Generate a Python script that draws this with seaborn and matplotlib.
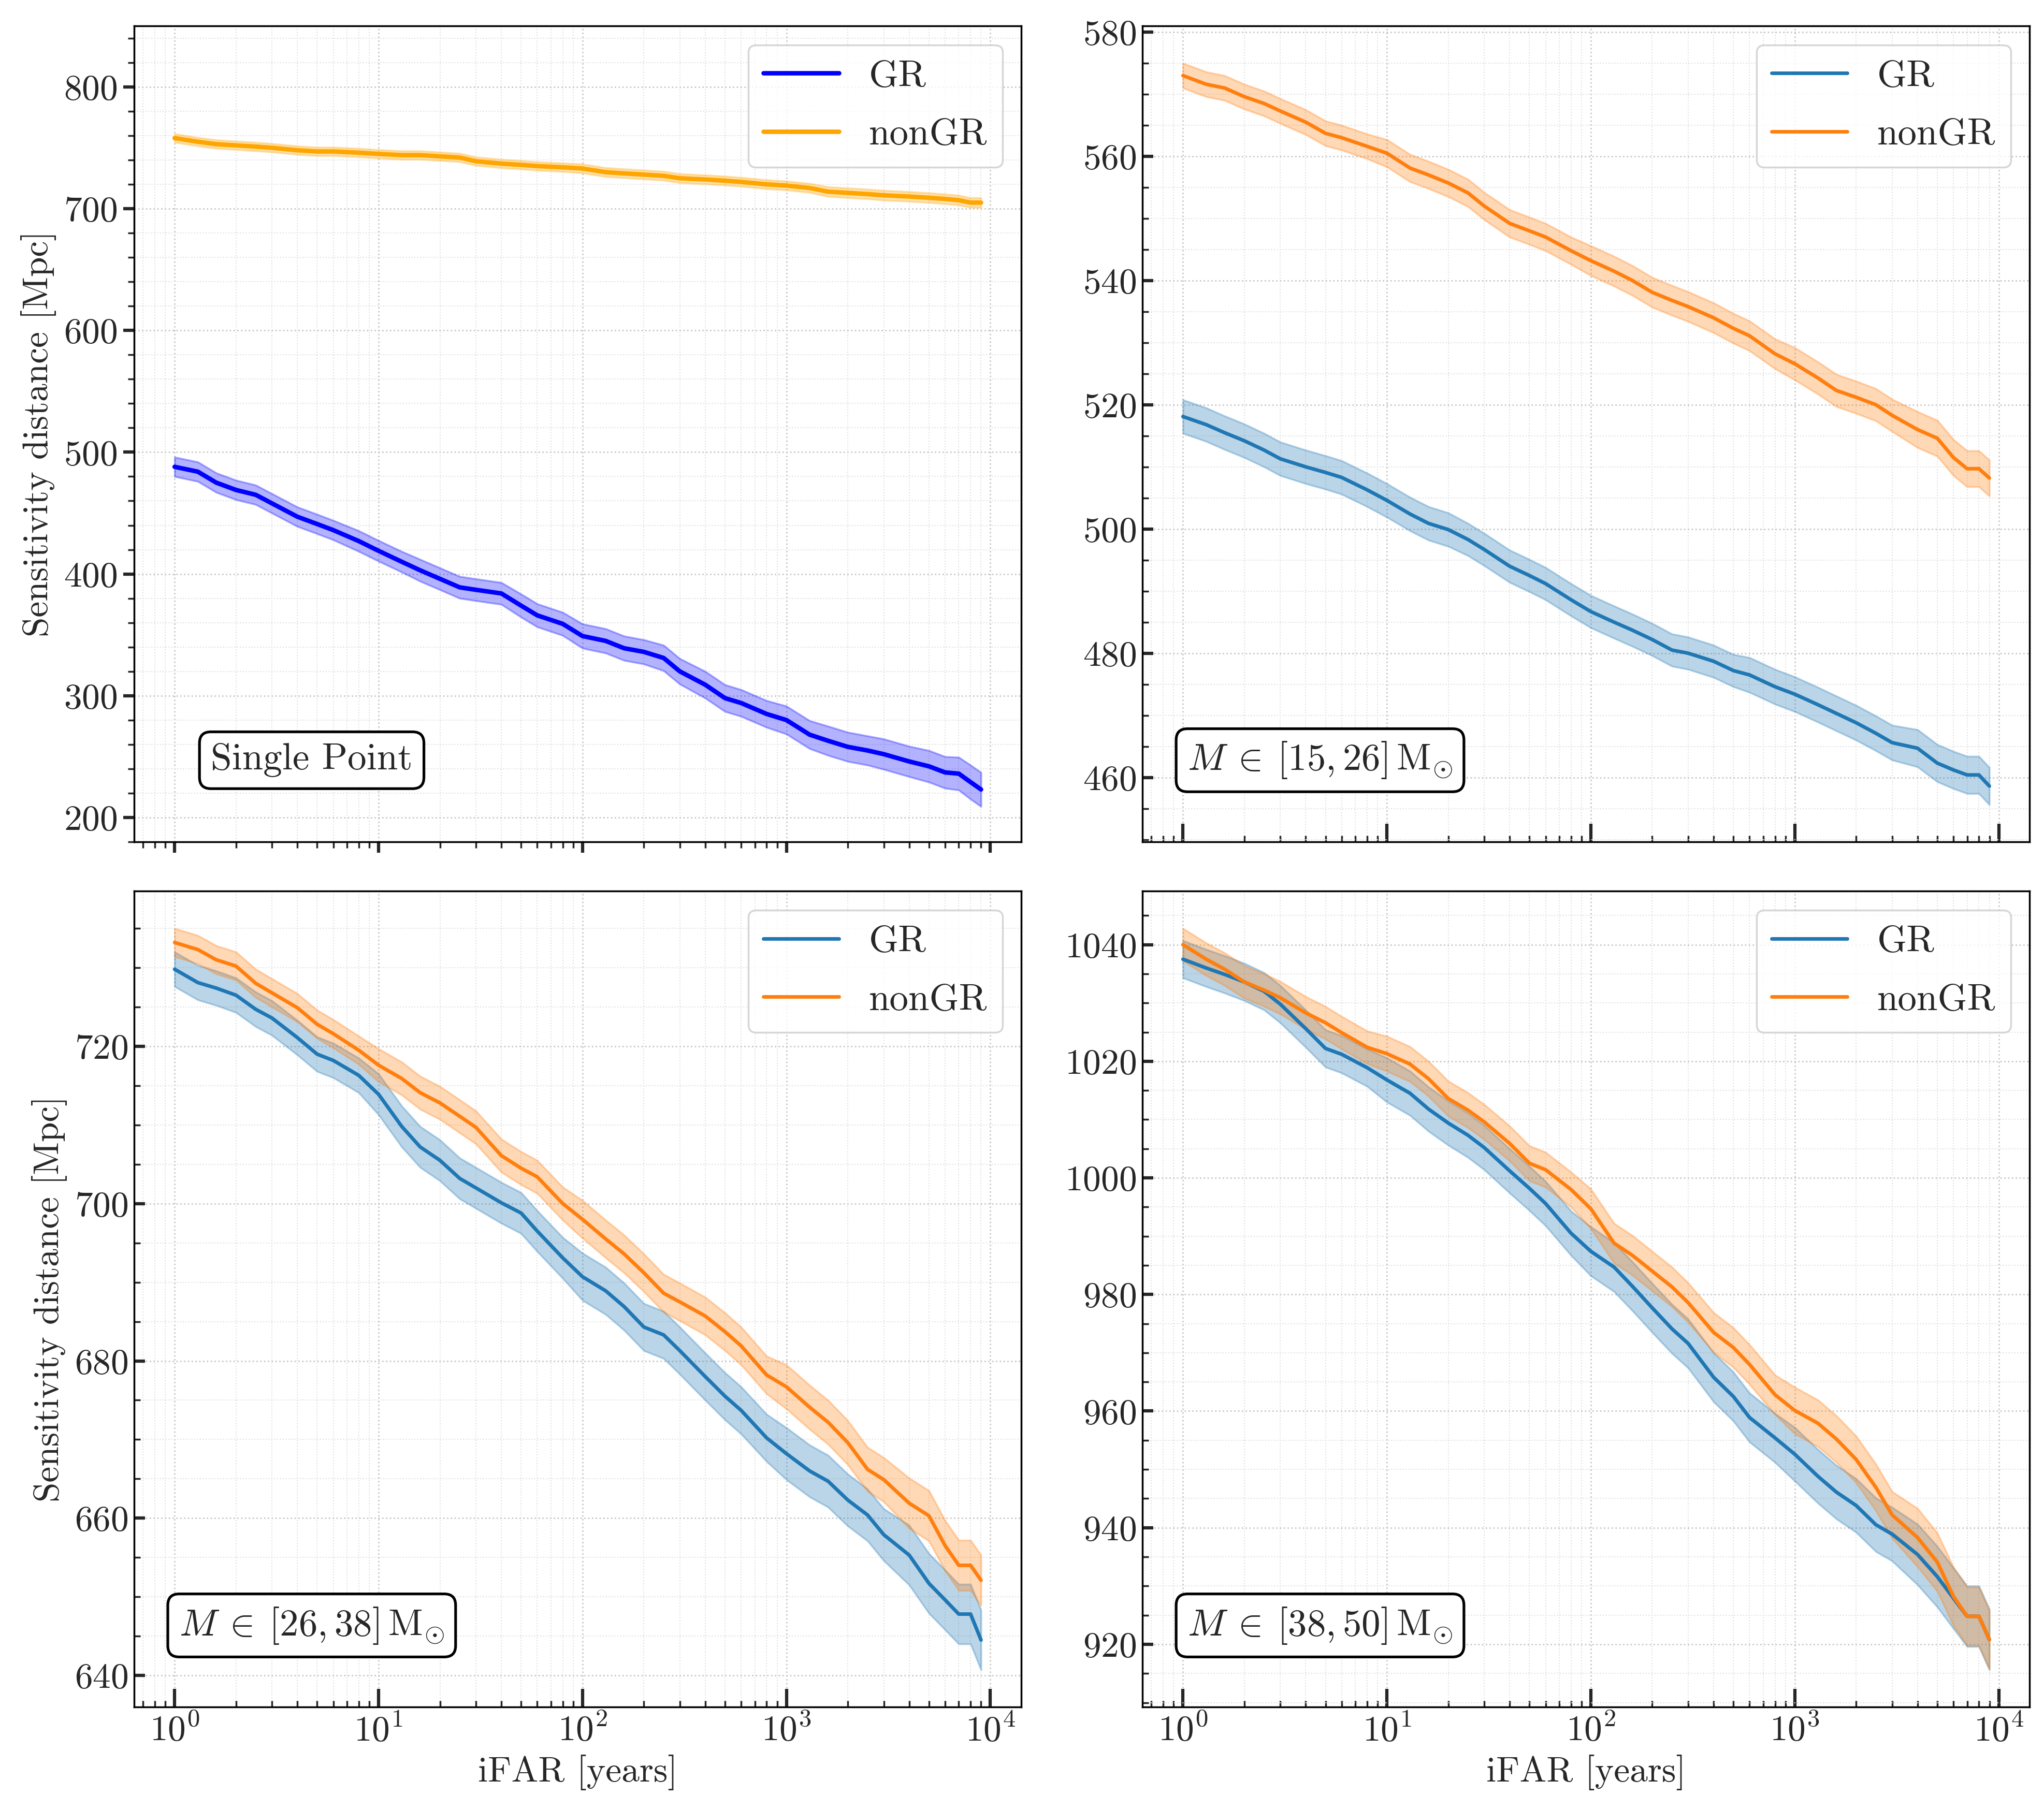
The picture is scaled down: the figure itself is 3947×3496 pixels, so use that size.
"""
Sensitivity distance vs iFAR, GR vs nonGR injections, four mass bins.
Saves out.png (3947 x 3496).
"""
import matplotlib
matplotlib.use("Agg")  # headless

import matplotlib.pyplot as plt
import numpy as np
import seaborn as sns
from matplotlib.ticker import AutoMinorLocator

# --------------------------------------------------------------------------- #
# Data
# --------------------------------------------------------------------------- #
IFAR = [1, 1.3, 1.6, 2, 2.5, 3, 4, 5, 6, 8,
        10, 13, 16, 20, 25, 30, 40, 50, 60, 80,
        100, 130, 160, 200, 250, 300, 400, 500, 600, 800,
        1000, 1300, 1600, 2000, 2500, 3000, 4000, 5000, 6000, 7000,
        8000, 9000]

# Single point
SP_GR = [488, 484, 475, 469, 465, 458, 447, 441, 436, 427,
         419, 410, 403, 396, 389, 387, 384, 374, 366, 359,
         349, 345, 339, 336, 331, 320, 309, 298, 294, 285,
         280, 268, 263, 258, 255, 252, 246, 242, 237, 236,
         229, 223]
SP_GR_ERR = [8, 8, 8, 8, 8, 8, 8, 8, 8, 8.5,
             8.5, 8.5, 9, 9, 9, 9, 9, 9.5, 9.5, 9.5,
             10, 10, 10, 10, 10.5, 10.5, 11, 11, 11, 11,
             11.5, 11.5, 12, 12, 12, 12.5, 12.5, 13, 13, 13.5,
             14, 14]
SP_NG = [758, 755, 753, 752, 751, 750, 748, 747, 747, 746,
         745, 744, 744, 743, 742, 739, 737, 736, 735, 734,
         733, 730, 729, 728, 727, 725, 724, 723, 722, 720,
         719, 717, 714, 713, 712, 711, 710, 709, 708, 707,
         705, 705]
SP_NG_ERR = [3.5] * 20 + [3.7] * 12 + [4] * 10

# M in [15, 26]
B1_GR = [518.1, 516.8, 515.5, 514.2, 512.7, 511.3, 510.0, 509.1, 508.3, 506.3,
         504.6, 502.4, 500.9, 499.9, 498.3, 496.7, 494.0, 492.5, 491.2, 488.6,
         486.7, 485.0, 483.7, 482.2, 480.5, 480.0, 478.7, 477.2, 476.5, 474.6,
         473.4, 471.7, 470.3, 468.8, 467.1, 465.6, 464.7, 462.3, 461.2, 460.4,
         460.4, 458.6]
B1_GR_ERR = [2.7] * 14 + [2.6] * 14 + [2.8] * 8 + [3.0] * 6
B1_NG = [573.0, 571.6, 571.0, 569.6, 568.5, 567.3, 565.5, 563.7, 563.0, 561.6,
         560.5, 558.1, 557.0, 555.7, 554.1, 552.0, 549.2, 548.0, 547.0, 544.8,
         543.2, 541.5, 540.0, 538.1, 536.8, 535.8, 534.0, 532.3, 531.1, 528.2,
         526.6, 524.3, 522.3, 521.2, 520.0, 518.3, 516.0, 514.6, 511.5, 509.7,
         509.7, 508.2]
B1_NG_ERR = [2.0] * 10 + [2.2] * 10 + [2.4] * 10 + [2.6] * 6 + [2.9] * 6

# M in [26, 38]
B2_GR = [729.8, 728.1, 727.4, 726.5, 724.7, 723.6, 721.1, 719.0, 718.2, 716.3,
         713.9, 709.8, 707.2, 705.5, 703.2, 702.0, 700.1, 698.8, 696.5, 693.1,
         690.7, 688.9, 686.9, 684.3, 683.3, 681.3, 678.0, 675.5, 673.7, 670.2,
         668.2, 666.0, 664.7, 662.3, 660.4, 657.9, 655.3, 651.7, 649.6, 647.8,
         647.8, 644.5]
B2_GR_ERR = [2.2] * 10 + [2.6] * 10 + [3.0] * 10 + [3.3] * 6 + [3.8] * 6
B2_NG = [733.2, 732.3, 731.0, 730.2, 728.0, 726.8, 724.9, 722.8, 721.6, 719.5,
         717.6, 715.9, 714.1, 712.8, 711.1, 709.7, 706.1, 704.5, 703.4, 700.0,
         698.0, 695.5, 693.6, 691.2, 688.6, 687.5, 685.7, 683.7, 681.9, 678.2,
         676.7, 674.1, 672.2, 669.6, 666.2, 664.9, 661.9, 660.3, 656.5, 654.0,
         654.0, 652.1]
B2_NG_ERR = [1.8] * 10 + [2.1] * 10 + [2.4] * 10 + [2.8] * 6 + [3.2] * 6

# M in [38, 50]
B3_GR = [1037.5, 1036.0, 1034.9, 1033.6, 1032.0, 1029.8, 1025.6, 1022.2, 1021.2, 1018.9,
         1016.8, 1014.5, 1011.8, 1009.4, 1007.3, 1005.2, 1001.2, 998.2, 995.6, 990.5,
         987.4, 984.7, 981.4, 977.7, 974.1, 971.6, 965.8, 962.5, 958.9, 955.4,
         952.6, 948.8, 946.1, 943.8, 940.5, 938.9, 935.4, 931.6, 927.9, 924.8,
         924.8, 920.8]
B3_GR_ERR = [3.2] * 10 + [3.8] * 10 + [4.2] * 10 + [4.6] * 6 + [5.2] * 6
B3_NG = [1040.0, 1037.5, 1035.8, 1033.6, 1032.2, 1030.9, 1028.3, 1026.6, 1024.9, 1022.4,
         1021.3, 1019.5, 1017.0, 1013.6, 1011.6, 1009.6, 1005.9, 1002.5, 1001.4, 998.0,
         994.7, 988.8, 986.7, 984.0, 981.3, 978.6, 973.5, 970.9, 968.0, 962.8,
         960.1, 957.9, 955.2, 951.7, 946.9, 942.2, 938.3, 934.1, 928.2, 924.8,
         924.8, 920.8]
B3_NG_ERR = [2.8] * 10 + [3.0] * 10 + [3.4] * 10 + [4.0] * 6 + [5.0] * 6

NOTES = ["Single Point",
         r"$M\:\in\:[15, 26]\,\mathrm{M}_{\odot}$",
         r"$M\:\in\:[26, 38]\,\mathrm{M}_{\odot}$",
         r"$M\:\in\:[38, 50]\,\mathrm{M}_{\odot}$"]

# --------------------------------------------------------------------------- #
# Style
# --------------------------------------------------------------------------- #
sns.set_style("ticks")
plt.rcParams.update({
    "font.family": "serif",
    "font.serif": ["cmr10"],
    "mathtext.fontset": "cm",
    "axes.formatter.use_mathtext": True,
    "font.size": 20,
    "axes.labelsize": 20,
    "xtick.labelsize": 20,
    "ytick.labelsize": 20,
    "legend.fontsize": 21,
    "axes.linewidth": 1.0,
    "axes.edgecolor": "black",
})


def draw_panel(ax, gr, gr_err, ng, ng_err, colors, note, lw, outward):
    for y, err, name, col in ((gr, gr_err, "GR", colors[0]),
                              (ng, ng_err, "nonGR", colors[1])):
        y = np.asarray(y, dtype=float)
        err = np.asarray(err, dtype=float)
        sns.lineplot(x=IFAR, y=y, color=col, lw=lw, label=name, ax=ax)
        ax.fill_between(IFAR, y - err, y + err, color=col, alpha=0.3)

    ax.set_xscale("log")
    ax.yaxis.set_minor_locator(AutoMinorLocator())
    ax.grid(which="major", ls=":", color="0.78", lw=0.8)
    ax.grid(which="minor", ls=":", color="0.88", lw=0.6)

    if outward:
        ax.tick_params(which="major", direction="out", length=6, width=1.8)
        ax.tick_params(which="minor", direction="out", length=3.5, width=1.0)
    else:
        ax.tick_params(which="major", direction="in", width=1.8)
        ax.tick_params(axis="x", which="major", length=10)
        ax.tick_params(axis="y", which="major", length=6)
        ax.tick_params(which="minor", direction="in", length=3.5, width=1.0)

    ax.legend(loc="upper right", fancybox=True, framealpha=0.8, edgecolor="0.8",
              labelspacing=0.65)
    ax.text(0.2, 0.1, note, transform=ax.transAxes, ha="center", va="center",
            fontsize=21,
            bbox=dict(boxstyle="round,pad=0.3", fc="white", ec="black", lw=1.5))


fig, axes = plt.subplots(2, 2, sharex=True, figsize=(15.788, 13.984))
fig.subplots_adjust(left=0.0657, right=0.993, top=0.9856, bottom=0.0569,
                    wspace=0.1367, hspace=0.0606)

tab = ("#1f77b4", "#ff7f0e")
draw_panel(axes[0, 0], SP_GR, SP_GR_ERR, SP_NG, SP_NG_ERR, ("blue", "orange"),
           NOTES[0], 2.5, True)
draw_panel(axes[0, 1], B1_GR, B1_GR_ERR, B1_NG, B1_NG_ERR, tab, NOTES[1], 2.0, False)
draw_panel(axes[1, 0], B2_GR, B2_GR_ERR, B2_NG, B2_NG_ERR, tab, NOTES[2], 2.0, False)
draw_panel(axes[1, 1], B3_GR, B3_GR_ERR, B3_NG, B3_NG_ERR, tab, NOTES[3], 2.0, False)

axes[0, 0].set_ylim(180, 850)

for ax in axes[:, 0]:
    ax.set_ylabel("Sensitivity distance [Mpc]")
for ax in axes[0, :]:
    ax.set_xlabel("")
for ax in axes[1, :]:
    ax.set_xlabel("iFAR [years]")
for ax in axes[:, 1]:
    ax.set_ylabel("")

fig.savefig("out.png", dpi=250)
